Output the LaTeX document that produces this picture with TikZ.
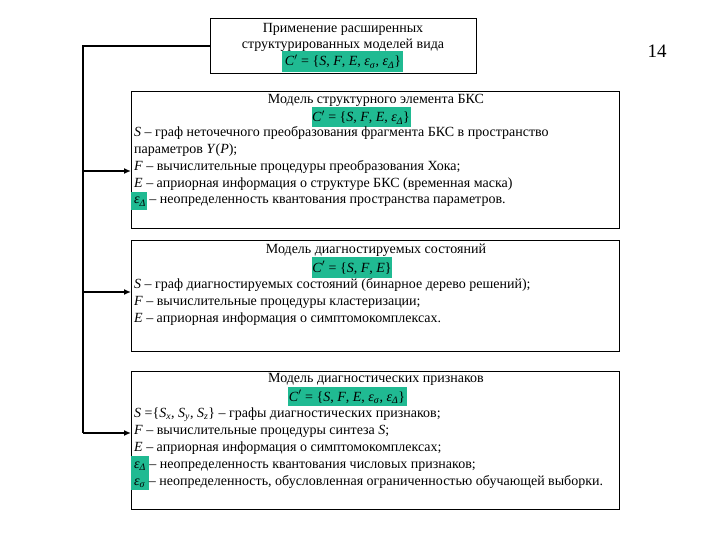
\documentclass[tikz,border=0pt]{standalone}
\usepackage{fontspec}
\setmainfont{Liberation Serif}
\usetikzlibrary{arrows.meta}
\definecolor{hl}{RGB}{32,186,146}
\newcommand{\fs}{\fontsize{14}{16}\selectfont}
\newcommand{\mi}[1]{\textit{#1}}
\tikzset{
  box/.style={draw=black, line width=1pt, fill=white, anchor=north west, inner sep=0, minimum width=#1},
  ln/.style={anchor=base west, inner sep=0, font=\fs},
  ttl/.style={anchor=base, inner sep=0, font=\fs},
  hlbox/.style={fill=hl, draw=none, inner sep=0, anchor=north west},
  link/.style={line width=2.8pt},
  arr/.style={line width=2.8pt, -{Latex[length=7pt,width=6pt]}}
}
\begin{document}
\begin{tikzpicture}[x=1pt,y=-1pt]
\useasboundingbox (0,0) rectangle (720,540);
% boxes
\node[box=266pt, minimum height=55pt] (top) at (210,18) {};
\node[box=488pt, minimum height=137pt] (b1) at (131,91) {};
\node[box=488pt, minimum height=111pt] (b2) at (131,240) {};
\node[box=488pt, minimum height=138pt] (b3) at (131,371) {};
% highlights
\node[hlbox, minimum width=121pt, minimum height=21pt] (h0) at (282,51) {};
\node[hlbox, minimum width=99pt, minimum height=20pt] (h1) at (312,107) {};
\node[hlbox, minimum width=80pt, minimum height=21pt] (h2) at (312,257) {};
\node[hlbox, minimum width=119pt, minimum height=19pt] (h3) at (288,387) {};
\node[hlbox, minimum width=16pt, minimum height=18pt] (e1) at (131,192) {};
\node[hlbox, minimum width=18pt, minimum height=34pt] (e3) at (131,456) {};
% top box text
\node[ttl] (t1) at (343,33) {Применение расширенных};
\node[ttl] (t2) at (343,49) {структурированных моделей вида};
\node[ttl] (t3) at (343,66) {\mi{C}$'$ = \{\mi{S}, \mi{F}, \mi{E}, \mi{ε}\textsubscript{\mi{σ}}, \mi{ε}\textsubscript{\mi{Δ}}\}};
% box 1
\node[ttl] (a0) at (376,104) {Модель структурного элемента БКС};
\node[ttl] (a1) at (361,122) {\mi{C}$'$ = \{\mi{S}, \mi{F}, \mi{E}, \mi{ε}\textsubscript{\mi{Δ}}\}};
\node[ln] (a2) at (134,137) {\mi{S} – граф неточечного преобразования фрагмента БКС в пространство};
\node[ln] (a3) at (134,154) {параметров \mi{Y}(\mi{P});};
\node[ln] (a4) at (134,171) {\mi{F} – вычислительные процедуры преобразования Хока;};
\node[ln] (a5) at (134,188) {\mi{E} – априорная информация о структуре БКС (временная маска)};
\node[ln] (a6) at (134,204) {\mi{ε}\textsubscript{\mi{Δ}} – неопределенность квантования пространства параметров.};
% box 2
\node[ttl] (c0) at (376,253) {Модель диагностируемых состояний};
\node[ttl] (c1) at (352,272) {\mi{C}$'$ = \{\mi{S}, \mi{F}, \mi{E}\}};
\node[ln] (c2) at (134,288) {\mi{S} – граф диагностируемых состояний (бинарное дерево решений);};
\node[ln] (c3) at (134,305) {\mi{F} – вычислительные процедуры кластеризации;};
\node[ln] (c4) at (134,322) {\mi{E} – априорная информация о симптомокомплексах.};
% box 3
\node[ttl] (d0) at (376,382) {Модель диагностических признаков};
\node[ttl] (d1) at (347,401) {\mi{C}$'$ = \{\mi{S}, \mi{F}, \mi{E}, \mi{ε}\textsubscript{\mi{σ}}, \mi{ε}\textsubscript{\mi{Δ}}\}};
\node[ln] (d2) at (134,417) {\mi{S} =\{\mi{S}\textsubscript{\mi{x}}, \mi{S}\textsubscript{\mi{y}}, \mi{S}\textsubscript{\mi{z}}\} – графы диагностических признаков;};
\node[ln] (d3) at (134,434) {\mi{F} – вычислительные процедуры синтеза \mi{S};};
\node[ln] (d4) at (134,451) {\mi{E} – априорная информация о симптомокомплексах;};
\node[ln] (d5) at (134,468) {\mi{ε}\textsubscript{\mi{Δ}} – неопределенность квантования числовых признаков;};
\node[ln] (d6) at (134,485) {\mi{ε}\textsubscript{\mi{σ}} – неопределенность, обусловленная ограниченностью обучающей выборки.};
% page number
\node[inner sep=0, font=\fontsize{19}{21}\selectfont] (pg) at (657,51) {14};
% connectors
\coordinate (k0) at (83,46);
\coordinate (k1) at (83,171);
\coordinate (k2) at (83,292);
\coordinate (k3) at (83,433);
\draw[link] (top.west |- k0) -- (k0) -- (k3);
\draw[arr] (k1) -- (b1.west |- k1);
\draw[arr] (k2) -- (b2.west |- k2);
\draw[arr] (k3) -- (b3.west |- k3);
\end{tikzpicture}
\end{document}
